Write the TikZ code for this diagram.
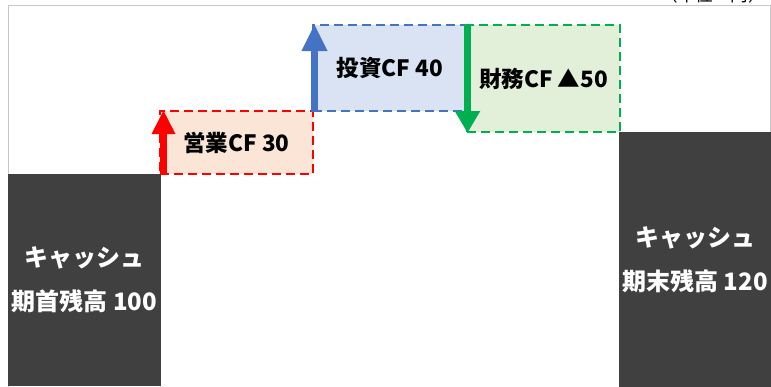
\documentclass[tikz,border=0pt]{standalone}
\usepackage{fontspec}
\setmainfont{Noto Sans CJK JP}
\usetikzlibrary{arrows.meta}
\definecolor{darkbg}{HTML}{404040}
\definecolor{cfred}{HTML}{FF0000}
\definecolor{cfredfill}{HTML}{FBE5D6}
\definecolor{cfblue}{HTML}{4472C4}
\definecolor{cfbluefill}{HTML}{DAE3F3}
\definecolor{cfgreen}{HTML}{00B050}
\definecolor{cfgreenfill}{HTML}{E2F0D9}
\definecolor{framegray}{HTML}{C8C8C8}
\begin{document}
\begin{tikzpicture}[x=1pt,y=-1pt,
  darkbox/.style={fill=darkbg, inner sep=0pt, text=white, align=center,
    font=\fontsize{24}{44}\selectfont\bfseries},
  cfbox/.style={inner sep=0pt, line width=2pt, dash pattern=on 9pt off 5pt,
    font=\fontsize{22.5}{26}\selectfont\bfseries, text=black},
  cfarrow/.style={line width=7pt}
]
\useasboundingbox (0,0) rectangle (771,386);
\fill[white] (0,0) rectangle (771,386);
% frame
\draw[framegray, line width=1pt] (8,5) rectangle (770,400);
% unit label (cut off at the top, as in the reference)
\node[anchor=base, inner sep=0pt, font=\fontsize{17.5}{17.5}\selectfont] (unit) at (713,1.2) {（単位：円）};
% boxes
\node[darkbox, minimum width=153pt, minimum height=212pt] (start) at (84.5,280) {キャッシュ\\期首残高 100};
\node[darkbox, minimum width=152pt, minimum height=256pt] (end) at (695,260) {キャッシュ\\期末残高 120};
\node[cfbox, draw=cfred, fill=cfredfill, minimum width=153pt, minimum height=63pt] (op) at (236.5,142.5) {営業CF 30};
\node[cfbox, draw=cfblue, fill=cfbluefill, minimum width=154pt, minimum height=86pt] (inv) at (390,68) {投資CF 40};
\node[cfbox, draw=cfgreen, fill=cfgreenfill, minimum width=153pt, minimum height=107pt] (fin) at (543.5,78.5) {財務CF ▲50};
% arrows
\draw[cfarrow, cfred, -{Triangle[width=22pt,length=24pt]}]
  ([xshift=4.5pt]op.south west) -- ([xshift=4.5pt]op.north west);
\draw[cfarrow, cfblue, -{Triangle[width=24pt,length=27pt]}]
  ([xshift=2.5pt]inv.south west) -- ([xshift=2.5pt]inv.north west);
\draw[cfarrow, cfgreen, -{Triangle[width=24pt,length=22pt]}]
  ([xshift=1.5pt]fin.north west) -- ([xshift=1.5pt]fin.south west);
\end{tikzpicture}
\end{document}
